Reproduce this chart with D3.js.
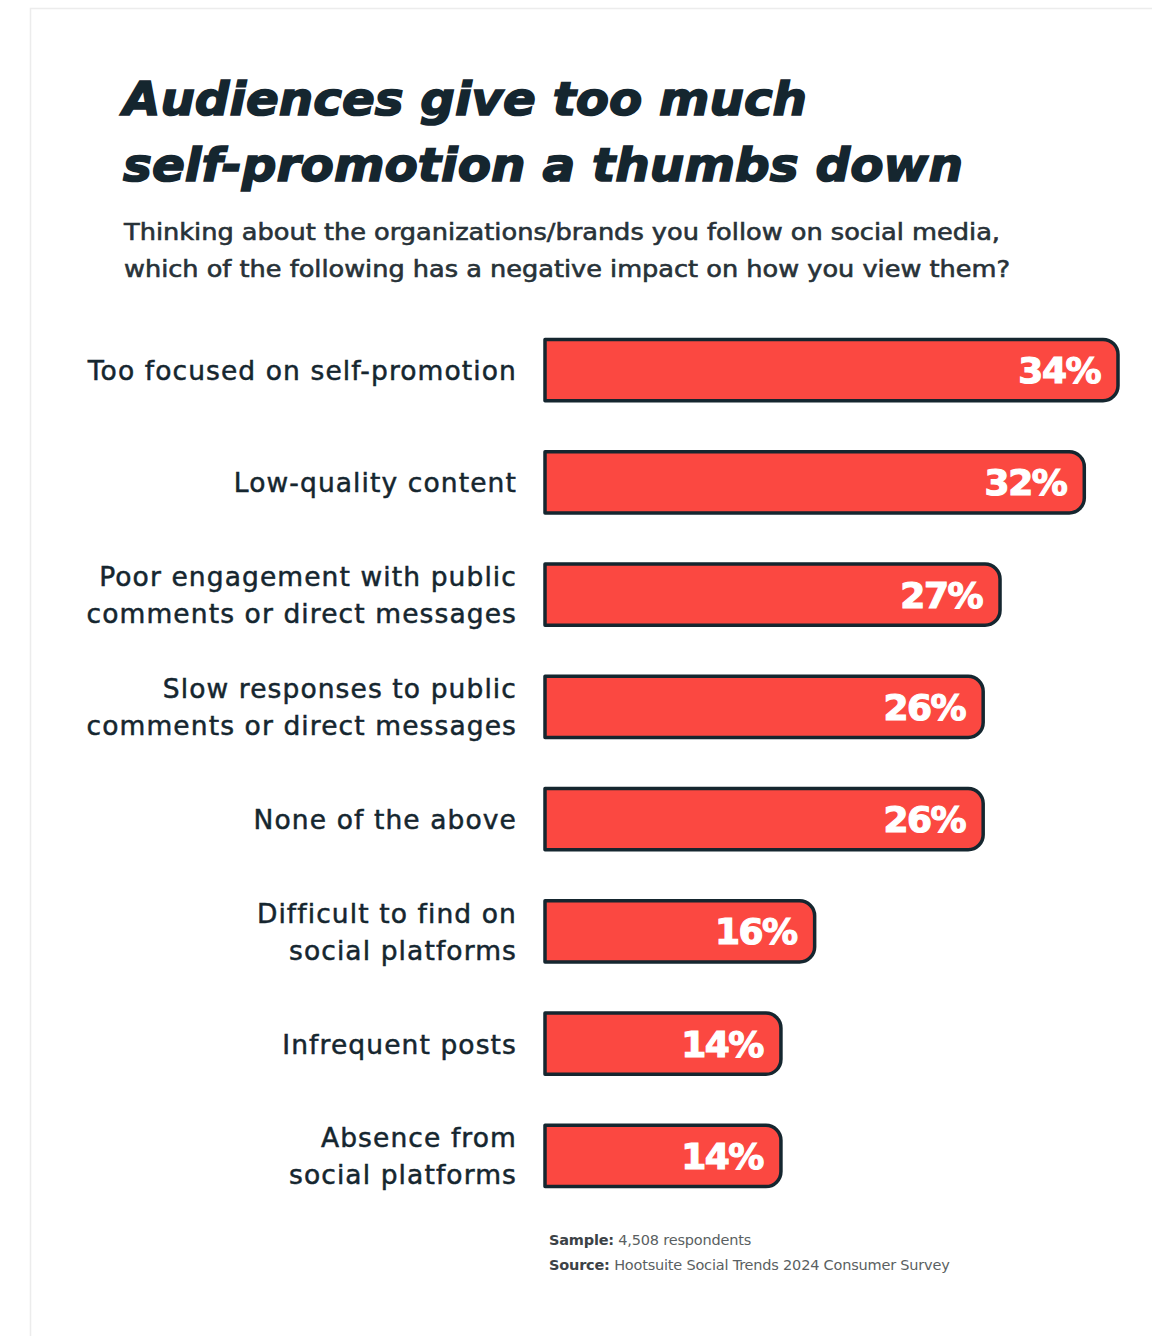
<!DOCTYPE html>
<html>
<head>
<meta charset="utf-8">
<script src="https://cdn.jsdelivr.net/npm/d3@7"></script>
<style>
  body { margin: 0; background: #fff; }
  svg { display: block; }
</style>
</head>
<body>
<script>
var width = 1152;
var height = 1336;

// data
var categories = [
  ['Too focused on self-promotion'],
  ['Low-quality content'],
  ['Poor engagement with public', 'comments or direct messages'],
  ['Slow responses to public', 'comments or direct messages'],
  ['None of the above'],
  ['Difficult to find on', 'social platforms'],
  ['Infrequent posts'],
  ['Absence from', 'social platforms']
];
var values = [34, 32, 27, 26, 26, 16, 14, 14];
var titleLines = ['Audiences give too much', 'self-promotion a thumbs down'];
var subtitleLines = [
  'Thinking about the organizations/brands you follow on social media,',
  'which of the following has a negative impact on how you view them?'
];

var ink = '#15262f';
var red = '#fb4841';
var font = '"DejaVu Sans", Verdana, sans-serif';

var svg = d3.select('body').append('svg')
  .attr('width', width)
  .attr('height', height);

// faint card edge
svg.append('path')
  .attr('d', 'M30.5,' + height + 'V8.5H' + width)
  .attr('fill', 'none')
  .attr('stroke', '#ececec')
  .attr('stroke-width', 1.5);

var titleWidths = [684, 840];
svg.selectAll('.title')
  .data(titleLines)
  .enter().append('text')
  .attr('class', 'title')
  .attr('x', 123)
  .attr('y', function (d, i) { return 115 + i * 66; })
  .attr('fill', ink)
  .attr('stroke', ink)
  .attr('stroke-width', 1.6)
  .attr('textLength', function (d, i) { return titleWidths[i]; })
  .attr('lengthAdjust', 'spacingAndGlyphs')
  .style('font-family', font)
  .style('font-weight', 700)
  .style('font-style', 'italic')
  .style('font-size', '47px')
  .text(function (d) { return d; });

var subWidths = [876, 886];
svg.selectAll('.subtitle')
  .data(subtitleLines)
  .enter().append('text')
  .attr('class', 'subtitle')
  .attr('x', 124)
  .attr('y', function (d, i) { return 240 + i * 37; })
  .attr('fill', '#283238')
  .attr('stroke', '#283238')
  .attr('stroke-width', 0.6)
  .attr('textLength', function (d, i) { return subWidths[i]; })
  .attr('lengthAdjust', 'spacingAndGlyphs')
  .style('font-family', font)
  .style('font-size', '23px')
  .text(function (d) { return d; });

var x = d3.scaleLinear()
  .domain([0, 34])
  .range([545, 1118]);

var y = d3.scaleBand()
  .domain(d3.range(values.length))
  .range([317, 1209])
  .paddingInner(0.455)
  .paddingOuter(0.2);

function barPath(x0, x1, y0, h) {
  var r = 15;
  return 'M' + x0 + ',' + y0 +
    'H' + (x1 - r) +
    'A' + r + ',' + r + ' 0 0 1 ' + x1 + ',' + (y0 + r) +
    'V' + (y0 + h - r) +
    'A' + r + ',' + r + ' 0 0 1 ' + (x1 - r) + ',' + (y0 + h) +
    'H' + x0 + 'Z';
}

var rows = svg.selectAll('.row')
  .data(values)
  .enter().append('g')
  .attr('class', 'row');

rows.append('path')
  .attr('d', function (d, i) { return barPath(x(0), x(d), y(i), y.bandwidth()); })
  .attr('fill', red)
  .attr('stroke', ink)
  .attr('stroke-width', 3.5)
  .attr('stroke-linejoin', 'round');

rows.append('text')
  .attr('x', function (d) { return x(d) - 18; })
  .attr('y', function (d, i) { return y(i) + y.bandwidth() / 2 + 13; })
  .attr('text-anchor', 'end')
  .attr('fill', '#fff')
  .attr('stroke', '#fff')
  .attr('stroke-width', 1.2)
  .style('font-family', font)
  .style('font-weight', 700)
  .style('font-size', '36px')
  .style('letter-spacing', '-1.5px')
  .text(function (d) { return d + '%'; });

rows.each(function (d, i) {
  var lines = categories[i];
  var cy = y(i) + y.bandwidth() / 2;
  d3.select(this).selectAll('.cat')
    .data(lines)
    .enter().append('text')
    .attr('class', 'cat')
    .attr('x', 517)
    .attr('y', function (t, j) { return cy + 10 + (j - (lines.length - 1) / 2) * 37; })
    .attr('text-anchor', 'end')
    .attr('fill', ink)
    .attr('stroke', ink)
    .attr('stroke-width', 0.5)
    .style('font-family', font)
    .style('font-size', '26.5px')
    .style('letter-spacing', '1.1px')
    .text(function (t) { return t; });
});

var notes = [['Sample:', ' 4,508 respondents'], ['Source:', ' Hootsuite Social Trends 2024 Consumer Survey']];
var foot = svg.selectAll('.note')
  .data(notes)
  .enter().append('text')
  .attr('class', 'note')
  .attr('x', 549)
  .attr('y', function (d, i) { return 1245 + i * 25; })
  .attr('fill', '#5a5f62')
  .style('font-family', font)
  .style('font-size', '14.5px')
  .style('letter-spacing', '-0.2px');
foot.append('tspan')
  .style('font-weight', 700)
  .attr('fill', '#3c4246')
  .text(function (d) { return d[0]; });
foot.append('tspan')
  .text(function (d) { return d[1]; });
</script>
</body>
</html>
